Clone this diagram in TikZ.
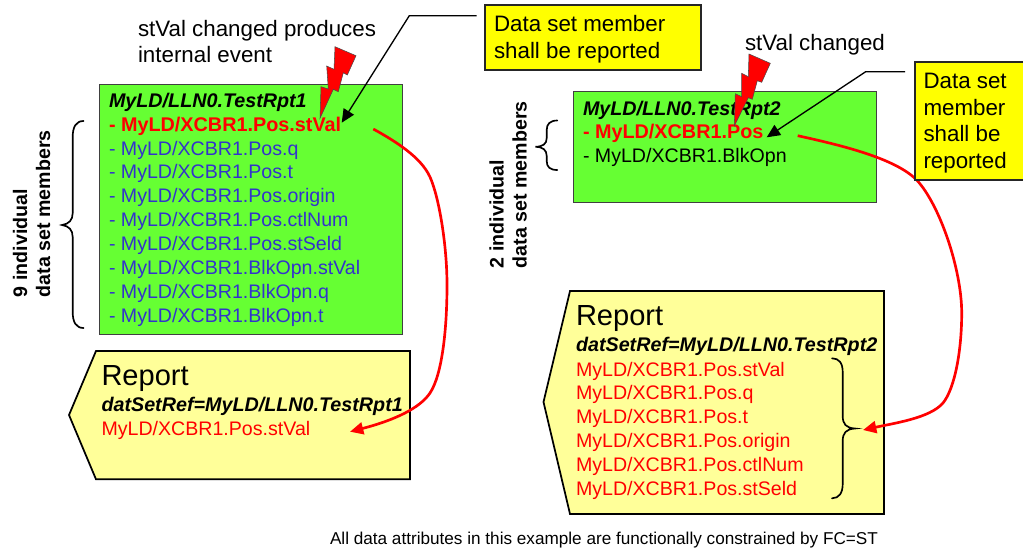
\documentclass[tikz,border=0pt]{standalone}
\usepackage{fontspec}
\setmainfont{Liberation Sans}
\usetikzlibrary{arrows.meta}
\definecolor{gbox}{HTML}{66FF33}
\definecolor{ybox}{HTML}{FFFF00}
\definecolor{rbox}{HTML}{FFFF99}
\definecolor{bluetxt}{HTML}{3333CC}
\definecolor{redtxt}{HTML}{FF0000}
\tikzset{
  txt/.style={anchor=base west,inner sep=0pt,outer sep=0pt},
  f/.style={font=\fontsize{14.7}{17.5}\selectfont},
  fb/.style={font=\fontsize{14.7}{17.5}\selectfont\bfseries},
  fbi/.style={font=\fontsize{14.8}{17.5}\selectfont\bfseries\itshape},
  fl/.style={font=\fontsize{16.75}{20}\selectfont},
  frep/.style={font=\fontsize{21.8}{26}\selectfont},
  ffoot/.style={font=\fontsize{12.87}{15}\selectfont},
  member/.style={txt,f,text=bluetxt},
  redline/.style={txt,f,text=redtxt},
  redbold/.style={txt,font=\fontsize{14.85}{17.5}\selectfont\bfseries,text=redtxt},
  greenbox/.style={rectangle,anchor=north west,fill=gbox,draw=black!75,line width=0.9pt,inner sep=0pt},
  yellowbox/.style={rectangle,anchor=north west,fill=ybox,draw=black!85,line width=1.5pt,inner sep=0pt},
  reportbox/.style={fill=rbox,draw=black,line width=1.3pt,line join=miter},
  bolt/.style={fill=red,draw=black!70,line width=0.4pt,line join=miter},
  blackarrow/.style={draw=black,line width=1pt,-{Triangle[length=10pt,width=9pt,inset=0pt]}},
  redarrow/.style={draw=red,line width=2pt,-{Triangle[length=10pt,width=9pt,inset=0pt]}},
  bracestyle/.style={draw=black,line width=1.25pt,line cap=round},
}
\begin{document}
\begin{tikzpicture}[x=0.75pt,y=-0.75pt]
\useasboundingbox (0,0) rectangle (1023,551);
\clip (0,0) rectangle (1023,551);

% green boxes
\node[greenbox,minimum width=227.6pt,minimum height=187.5pt] (gA) at (98.5,84) {};
\node[greenbox,minimum width=227.5pt,minimum height=83.2pt] (gB) at (572.7,91) {};

% report shapes
\draw[reportbox] (96,351) -- (410,351) -- (410,479.3) -- (96,479.3) -- (69,415) -- cycle;
\draw[reportbox] (570,291) -- (884,291) -- (884,514) -- (570,514) -- (543.5,402) -- cycle;

% yellow box 1
\node[yellowbox,minimum width=162pt,minimum height=48.7pt] (yA) at (483.5,4) {};
\node[txt,fl] (yA1) at (494,31) {Data set member};
\node[txt,fl] (yA2) at (494,58) {shall be reported};

% texts, box 1
\node[txt,fbi] (a0) at (109,107.5) {MyLD/LLN0.TestRpt1};
\node[redbold] (a1) at (109,131.3) {- MyLD/XCBR1.Pos.stVal};
\node[member] (a2) at (109,155) {- MyLD/XCBR1.Pos.q};
\node[member] (a3) at (109,178.9) {- MyLD/XCBR1.Pos.t};
\node[member] (a4) at (109,202.8) {- MyLD/XCBR1.Pos.origin};
\node[member] (a5) at (109,226.7) {- MyLD/XCBR1.Pos.ctlNum};
\node[member] (a6) at (109,250.6) {- MyLD/XCBR1.Pos.stSeld};
\node[member] (a7) at (109,274.5) {- MyLD/XCBR1.BlkOpn.stVal};
\node[member] (a8) at (109,298.4) {- MyLD/XCBR1.BlkOpn.q};
\node[member] (a9) at (109,322) {- MyLD/XCBR1.BlkOpn.t};

% texts, box 2
\node[txt,fbi] (b0) at (583,115.7) {MyLD/LLN0.TestRpt2};
\node[redbold] (b1) at (583,138.8) {- MyLD/XCBR1.Pos};
\node[txt,f] (b2) at (583,162.7) {- MyLD/XCBR1.BlkOpn};

% report 1 text
\node[txt,frep] (r0) at (101.5,385) {Report};
\node[txt,fbi] (r1) at (101.5,411) {datSetRef=MyLD/LLN0.TestRpt1};
\node[redline] (r2) at (101.5,435) {MyLD/XCBR1.Pos.stVal};

% report 2 text
\node[txt,frep] (s0) at (576,325.5) {Report};
\node[txt,fbi] (s1) at (576,351.5) {datSetRef=MyLD/LLN0.TestRpt2};
\node[redline] (s2) at (576,376) {MyLD/XCBR1.Pos.stVal};
\node[redline] (s3) at (576,399.7) {MyLD/XCBR1.Pos.q};
\node[redline] (s4) at (576,423) {MyLD/XCBR1.Pos.t};
\node[redline] (s5) at (576,447) {MyLD/XCBR1.Pos.origin};
\node[redline] (s6) at (576,471) {MyLD/XCBR1.Pos.ctlNum};
\node[redline] (s7) at (576,495) {MyLD/XCBR1.Pos.stSeld};

% free labels
\node[txt,fl] (l1) at (138,36) {stVal changed produces};
\node[txt,fl] (l2) at (138,62.7) {internal event};
\node[txt,fl] (l3) at (745,50.7) {stVal changed};
\node[txt,ffoot] (foot) at (330,544.5) {All data attributes in this example are functionally constrained by FC=ST};

% side labels
\node[txt,fb,rotate=90] (c1) at (27,297) {9 individual};
\node[txt,fb,rotate=90] (c2) at (50,297) {data set members};
\node[txt,fb,rotate=90] (d1) at (503.5,268) {2 individual};
\node[txt,fb,rotate=90] (d2) at (526.7,268) {data set members};

% braces
\draw[bracestyle] (83.5,121) .. controls (76,121) and (72.7,127) .. (72.7,137) -- (72.7,213) .. controls (72.7,220) and (69,224) .. (62,225) .. controls (69,226) and (72.7,230) .. (72.7,237) -- (72.7,312) .. controls (72.7,322) and (76,328) .. (83.5,328);
\draw[bracestyle] (557.3,120.5) .. controls (550,120.5) and (546.7,124) .. (546.7,130) -- (546.7,138) .. controls (546.7,144) and (543,146.5) .. (535.5,146.8) .. controls (543,147) and (546.7,150) .. (546.7,156) -- (546.7,161) .. controls (546.7,167) and (550,170) .. (557.3,170);
\draw[bracestyle] (832,358.3) .. controls (839,358.3) and (842.7,363) .. (842.7,372) -- (842.7,416) .. controls (842.7,424) and (846,428) .. (855,428.5) .. controls (846,429) and (842.7,433) .. (842.7,441) -- (842.7,484) .. controls (842.7,493) and (839,498.3) .. (832,498.3);

% black arrows
\coordinate (ba0) at (476.7,15.7);
\coordinate (ba1) at (409.3,15.7);
\coordinate (ba2) at (341.7,122.7);
\draw[blackarrow] (ba0) -- (ba1) -- (ba2);
\coordinate (bb0) at (905,71.7);
\coordinate (bb1) at (865.7,71.7);
\coordinate (bb2) at (766.7,137.3);
\draw[blackarrow] (bb0) -- (bb1) -- (bb2);

% red curves
\coordinate (ra0) at (373.3,129);
\coordinate (ra1) at (430,177);
\coordinate (ra2) at (447,285);
\coordinate (ra3) at (430,393);
\coordinate (ra4) at (350,431.7);
\draw[redarrow] (ra0) .. controls (395,141) and (421,157) .. (ra1) .. controls (439,197) and (447,245) .. (ra2) .. controls (447,330) and (442,375) .. (ra3) .. controls (420,408) and (395,420) .. (ra4);
\coordinate (rb0) at (797.7,135.7);
\coordinate (rb1) at (916.7,180);
\coordinate (rb2) at (961.7,313);
\coordinate (rb3) at (943,403);
\coordinate (rb4) at (863,430);
\draw[redarrow] (rb0) .. controls (840,145) and (895,158) .. (rb1) .. controls (940,205) and (961.7,270) .. (rb2) .. controls (961.7,350) and (955,388) .. (rb3) .. controls (930,418) and (895,423) .. (rb4);

% yellow box 2 above the red curve
\node[yellowbox,minimum width=90pt,minimum height=88.5pt] (yB) at (913.5,61) {};
\node[txt,fl] (yB1) at (923.5,88) {Data set};
\node[txt,fl] (yB2) at (923.5,115) {member};
\node[txt,fl] (yB3) at (923.5,141.7) {shall be};
\node[txt,fl] (yB4) at (923.5,168.5) {reported};

% lightning bolts
\draw[bolt] (335,46.7) -- (356,55.7) -- (347.3,75) -- (343.3,72.7) -- (338.3,91.7) -- (333.3,89.3) -- (320,118.3) -- (321,86.7) -- (328.3,89) -- (326.7,66) -- (334,69.3) -- cycle;
\draw[bolt] (749,54) -- (770.3,63.3) -- (761.7,82.3) -- (757.3,80.7) -- (752.3,99.3) -- (748.3,97.7) -- (734.3,126) -- (735.3,93.7) -- (741.7,96.7) -- (741.7,73.3) -- (748.3,76.7) -- cycle;
\end{tikzpicture}
\end{document}
